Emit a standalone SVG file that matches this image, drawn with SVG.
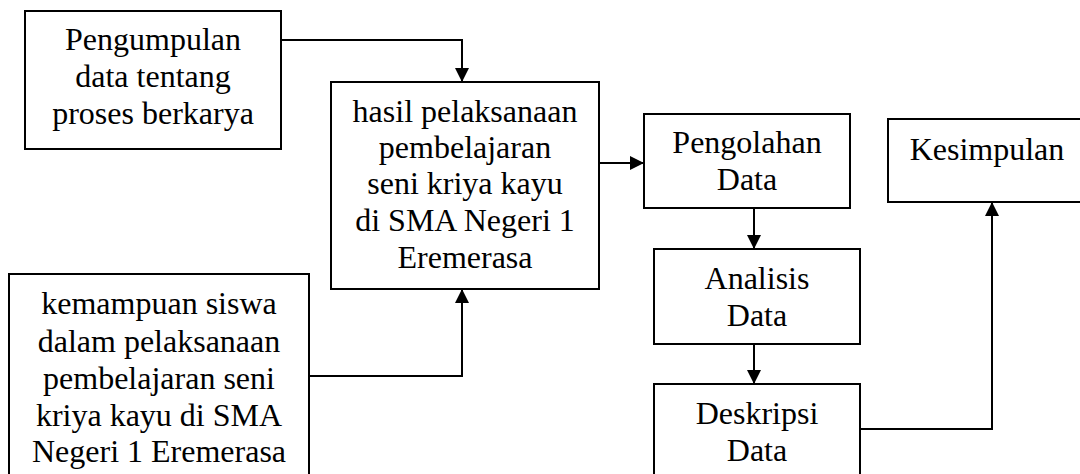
<svg xmlns="http://www.w3.org/2000/svg" width="1080" height="474" viewBox="0 0 1080 474">
<style>
.box{fill:#fff;stroke:#000;stroke-width:2}
.t{font-family:"Liberation Serif","Times New Roman",serif;font-size:32px;fill:#000;text-anchor:middle}
.c{fill:none;stroke:#000;stroke-width:2}
</style>
<defs>
<marker id="ah" markerWidth="14" markerHeight="14" viewBox="0 0 14 14" refX="14" refY="7" orient="auto" markerUnits="userSpaceOnUse">
<path d="M0,0 L14,7 L0,14 Z" fill="#000"/>
</marker>
</defs>
<rect width="1080" height="474" fill="#fff"/>
<g id="connectors">
<path class="c" d="M281,40 H462 V82" marker-end="url(#ah)"/>
<path class="c" d="M309,376 H462 V289" marker-end="url(#ah)"/>
<path class="c" d="M599,163 H644" marker-end="url(#ah)"/>
<path class="c" d="M754,208 V249" marker-end="url(#ah)"/>
<path class="c" d="M754,344 V384" marker-end="url(#ah)"/>
<path class="c" d="M860,429 H992 V202" marker-end="url(#ah)"/>
</g>
<g id="pengumpulan">
<rect class="box" x="25" y="11" width="256" height="138"/>
<text class="t" x="153" y="50">Pengumpulan</text>
<text class="t" x="153" y="87">data tentang</text>
<text class="t" x="153" y="124">proses berkarya</text>
</g>
<g id="hasil">
<rect class="box" x="331" y="82" width="268" height="207"/>
<text class="t" x="465" y="122">hasil pelaksanaan</text>
<text class="t" x="465" y="158">pembelajaran</text>
<text class="t" x="465" y="194">seni kriya kayu</text>
<text class="t" x="465" y="231">di SMA Negeri 1</text>
<text class="t" x="465" y="268">Eremerasa</text>
</g>
<g id="kemampuan">
<rect class="box" x="9" y="274" width="300" height="210"/>
<text class="t" x="159" y="314">kemampuan siswa</text>
<text class="t" x="159" y="352">dalam pelaksanaan</text>
<text class="t" x="159" y="389">pembelajaran seni</text>
<text class="t" x="159" y="426">kriya kayu di SMA</text>
<text class="t" x="159" y="462">Negeri 1 Eremerasa</text>
</g>
<g id="pengolahan">
<rect class="box" x="644" y="114" width="206" height="94"/>
<text class="t" x="747" y="153">Pengolahan</text>
<text class="t" x="747" y="190">Data</text>
</g>
<g id="analisis">
<rect class="box" x="654" y="249" width="206" height="95"/>
<text class="t" x="757" y="289">Analisis</text>
<text class="t" x="757" y="326">Data</text>
</g>
<g id="deskripsi">
<rect class="box" x="654" y="384" width="206" height="100"/>
<text class="t" x="757" y="424">Deskripsi</text>
<text class="t" x="757" y="461">Data</text>
</g>
<g id="kesimpulan">
<rect class="box" x="888" y="119" width="200" height="83"/>
<text class="t" x="987" y="160">Kesimpulan</text>
</g>
</svg>
